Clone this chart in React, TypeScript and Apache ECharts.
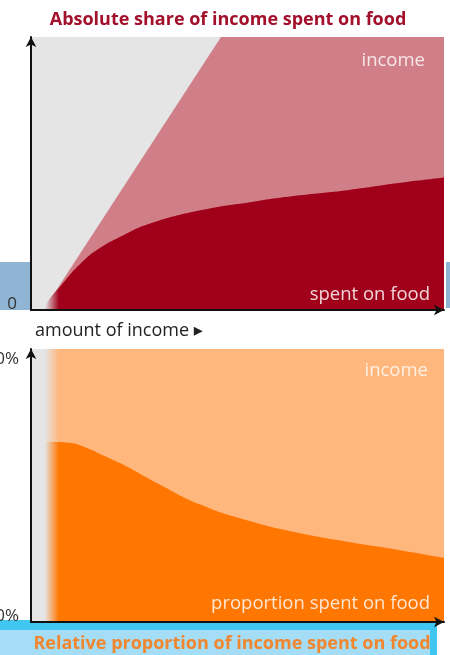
import React, { useEffect, useRef } from "react";
import * as echarts from "echarts";

// ---- texts ----
const topTitle = "Absolute share of income spent on food";
const bottomTitle = "Relative proportion of income spent on food";
const xAxisName = "amount of income \u25B8";
const topAreaLabels = ["income", "spent on food"];
const bottomAreaLabels = ["income", "proportion spent on food"];

// ---- top chart: absolute amounts (x = amount of income, y = amount) ----
const incomeTop: [number, number][] = [
  [3, 0],
  [46, 100],
  [100, 100],
];
const foodTop: [number, number][] = [
  [3, 0],
  [4.5, 4],
  [7, 8.5],
  [12, 17],
  [16.5, 22.5],
  [22.5, 27.5],
  [28.5, 31.5],
  [41, 36.5],
  [53, 39.5],
  [65, 42],
  [77, 44],
  [89, 46.5],
  [100, 48.5],
];
const topTickValues = [0];
const topTickLabels = ["0"];

// ---- bottom chart: proportions (%) ----
const incomeBottom: [number, number][] = [
  [3, 100],
  [100, 100],
];
const foodBottom: [number, number][] = [
  [3, 66],
  [9, 65.7],
  [14, 63.5],
  [17.5, 61],
  [22.5, 57.5],
  [30, 51.3],
  [41, 43],
  [53, 37],
  [65, 32.6],
  [77, 29.3],
  [89, 26.4],
  [100, 23.5],
];
const bottomTickValues = [0, 100];
const bottomTickLabels = ["0%", "100%"];

const FONT = "'Open Sans', 'DejaVu Sans', sans-serif";

function axisLine() {
  return {
    show: true,
    onZero: false,
    symbol: ["none", "arrow"],
    symbolSize: [8, 10],
    lineStyle: { color: "#111", width: 2 },
  };
}

function makeYLabel(values: number[], labels: string[]) {
  return (v: number) => {
    const i = values.indexOf(v);
    const t = i >= 0 ? labels[i] : "";
    return v === 0 ? `{lo|${t}}` : `{hi|${t}}`;
  };
}

function yRich() {
  return {
    lo: { padding: [0, 0, 16, 0], fontSize: 17, color: "#333", fontFamily: FONT },
    hi: { padding: [16, 0, 0, 0], fontSize: 17, color: "#333", fontFamily: FONT },
  };
}

export default function App() {
  const ref = useRef<HTMLDivElement>(null);

  useEffect(() => {
    if (!ref.current) return;
    const chart = echarts.init(ref.current, undefined, { renderer: "svg" });

    const fadeRect = (y: number, h: number) => ({
      type: "rect",
      z: 50,
      shape: { x: 40, y, width: 19, height: h },
      style: {
        fill: new echarts.graphic.LinearGradient(0, 0, 1, 0, [
          { offset: 0, color: "rgba(229,229,229,1)" },
          { offset: 0.25, color: "rgba(229,229,229,1)" },
          { offset: 1, color: "rgba(229,229,229,0)" },
        ]),
      },
    });

    const areaLabel = (text: string, x: number, y: number, fill: string) => ({
      type: "text",
      z: 60,
      x,
      y,
      style: { text, fill, font: `18.5px ${FONT}`, textAlign: "right", textVerticalAlign: "middle" },
    });

    chart.setOption({
      animation: false,
      grid: [
        { left: 31, right: 6, top: 37, height: 273, show: true, backgroundColor: "#e5e5e5", borderWidth: 0, outerBoundsMode: "none", containLabel: false },
        { left: 31, right: 6, top: 349, height: 273, show: true, backgroundColor: "#e5e5e5", borderWidth: 0, outerBoundsMode: "none", containLabel: false },
      ],
      xAxis: [0, 1].map((g) => ({
        type: "value",
        gridIndex: g,
        min: 0,
        max: 100,
        z: 10,
        axisLine: axisLine(),
        axisTick: { show: false },
        axisLabel: { show: false },
        splitLine: { show: false },
      })),
      yAxis: [
        {
          type: "value",
          gridIndex: 0,
          min: 0,
          max: 100,
          z: 10,
          axisLine: axisLine(),
          axisTick: { show: false },
          splitLine: { show: false },
          axisLabel: {
            show: true,
            customValues: topTickValues,
            margin: 14,
            formatter: makeYLabel(topTickValues, topTickLabels),
            rich: yRich(),
          },
        },
        {
          type: "value",
          gridIndex: 1,
          min: 0,
          max: 100,
          z: 10,
          axisLine: axisLine(),
          axisTick: { show: false },
          splitLine: { show: false },
          axisLabel: {
            show: true,
            customValues: bottomTickValues,
            margin: 12,
            formatter: makeYLabel(bottomTickValues, bottomTickLabels),
            rich: yRich(),
          },
        },
      ],
      series: [
        {
          type: "line",
          name: "income",
          xAxisIndex: 0,
          yAxisIndex: 0,
          data: incomeTop,
          showSymbol: false,
          lineStyle: { width: 0 },
          areaStyle: { color: "#d07f88", opacity: 1 },
          z: 2,
        },
        {
          type: "line",
          name: "spent on food",
          xAxisIndex: 0,
          yAxisIndex: 0,
          data: foodTop,
          smooth: 0.5,
          showSymbol: false,
          lineStyle: { width: 0 },
          areaStyle: { color: "#a0001a", opacity: 1 },
          z: 3,
        },
        {
          type: "line",
          name: "income %",
          xAxisIndex: 1,
          yAxisIndex: 1,
          data: incomeBottom,
          showSymbol: false,
          lineStyle: { width: 0 },
          areaStyle: { color: "#ffb77d", opacity: 1 },
          z: 2,
        },
        {
          type: "line",
          name: "proportion spent on food",
          xAxisIndex: 1,
          yAxisIndex: 1,
          data: foodBottom,
          smooth: 0.5,
          showSymbol: false,
          lineStyle: { width: 0 },
          areaStyle: { color: "#ff7600", opacity: 1 },
          z: 3,
        },
      ],
      graphic: [
        // blue bands behind
        { type: "rect", z: -5, shape: { x: 0, y: 262, width: 30, height: 48 }, style: { fill: "#8fb4d4" } },
        { type: "rect", z: -5, shape: { x: 446, y: 262, width: 4, height: 46 }, style: { fill: "#8fb4d4" } },
        { type: "rect", z: -5, shape: { x: 0, y: 620, width: 437, height: 35 }, style: { fill: "#3fc7f2" } },
        { type: "rect", z: -4, shape: { x: 0, y: 630, width: 430, height: 25 }, style: { fill: "#a6ddf6" } },
        // left fades
        fadeRect(37, 272),
        fadeRect(349, 272),
        // titles
        {
          type: "text",
          z: 60,
          x: 228,
          y: 18,
          style: {
            text: topTitle,
            fill: "#a3102c",
            font: `bold 18px ${FONT}`,
            textAlign: "center",
            textVerticalAlign: "middle",
          },
        },
        {
          type: "text",
          z: 60,
          x: 232,
          y: 642,
          style: {
            text: bottomTitle,
            fill: "#f0862e",
            font: `bold 18px ${FONT}`,
            textAlign: "center",
            textVerticalAlign: "middle",
          },
        },
        {
          type: "text",
          z: 60,
          x: 35,
          y: 329,
          style: {
            text: xAxisName,
            fill: "#222",
            font: `18px ${FONT}`,
            textAlign: "left",
            textVerticalAlign: "middle",
          },
        },
        // area labels
        areaLabel(topAreaLabels[0], 425, 58, "#f7e6e8"),
        areaLabel(topAreaLabels[1], 430, 292, "#f3d6da"),
        areaLabel(bottomAreaLabels[0], 428, 368, "#fff0e4"),
        areaLabel(bottomAreaLabels[1], 430, 601, "#ffe6d2"),
      ],
    });

    return () => chart.dispose();
  }, []);

  return (
    <div
      ref={ref}
      style={{ position: "fixed", left: 0, top: 0, width: 450, height: 655 }}
    />
  );
}
